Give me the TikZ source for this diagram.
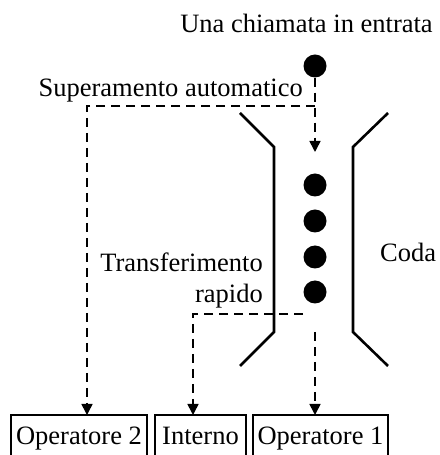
\documentclass[tikz,border=0pt]{standalone}
\usepackage{fontspec}
\setmainfont{Liberation Serif}
\usepackage{tikz}
\usetikzlibrary{arrows.meta}

\tikzset{
    chiamata/.style={circle, fill=black, inner sep=0pt, minimum size=23pt},
    etichetta/.style={inner sep=0pt, font=\fontsize{26.5}{31}\selectfont},
    operatore/.style={draw, line width=2.2pt, inner xsep=0pt, inner ysep=12pt,
        text height=18pt, text depth=6pt, font=\fontsize{26.5}{31}\selectfont},
    percorso/.style={dashed, line width=1.6pt, dash pattern=on 9pt off 6pt},
    parete/.style={line width=2.6pt},
    freccia/.style={-{Triangle[length=11pt,width=11pt]}}
}

\begin{document}
\begin{tikzpicture}[x=1pt, y=1pt]
    \useasboundingbox (0,0) rectangle (439,455);

    % Chiamata in entrata
    \node[etichetta, anchor=base] (titolo) at (306.5,422) {Una chiamata in entrata};
    \node[chiamata] (nuova) at (315,389) {};
    \node[etichetta, anchor=base east] (superamento) at (303,358) {Superamento automatico};

    % Pareti della coda
    \draw[parete] (240,342) -- (274,308) -- (274,123) -- (240,89);
    \draw[parete] (388,342) -- (353,308) -- (353,123) -- (388,89);
    \node[etichetta, anchor=base west] (coda) at (380,193) {Coda};

    % Chiamate in coda
    \foreach \y [count=\i] in {270,234,198,163}
        \node[chiamata] (q\i) at (315,\y) {};

    % Etichetta trasferimento
    \node[etichetta, anchor=base east] (transf) at (263,183) {Transferimento};
    \node[etichetta, anchor=base east] (rapido) at (263,152) {rapido};

    % Operatori
    \node[operatore, minimum width=136pt, anchor=base] (op2) at (79,10) {Operatore 2};
    \node[operatore, minimum width=91pt, anchor=base] (interno) at (200.5,10) {Interno};
    \node[operatore, minimum width=135pt, anchor=base] (op1) at (320.5,10) {Operatore 1};

    % Punti dei percorsi
    \coordinate (bivio) at (315,349);
    \coordinate (ingresso) at (315,303);
    \coordinate (uscita) at (315,123);
    \coordinate (rapidoinizio) at (303,141);
    \coordinate (in2) at (87,40);
    \coordinate (inint) at (193,40);
    \coordinate (in1) at (315,40);

    % Percorsi
    \draw[percorso, freccia] (nuova) -- (ingresso);
    \draw[percorso, freccia] (bivio) -| (in2);
    \draw[percorso, freccia] (rapidoinizio) -| (inint);
    \draw[percorso, freccia] (uscita) -- (in1);
\end{tikzpicture}
\end{document}
